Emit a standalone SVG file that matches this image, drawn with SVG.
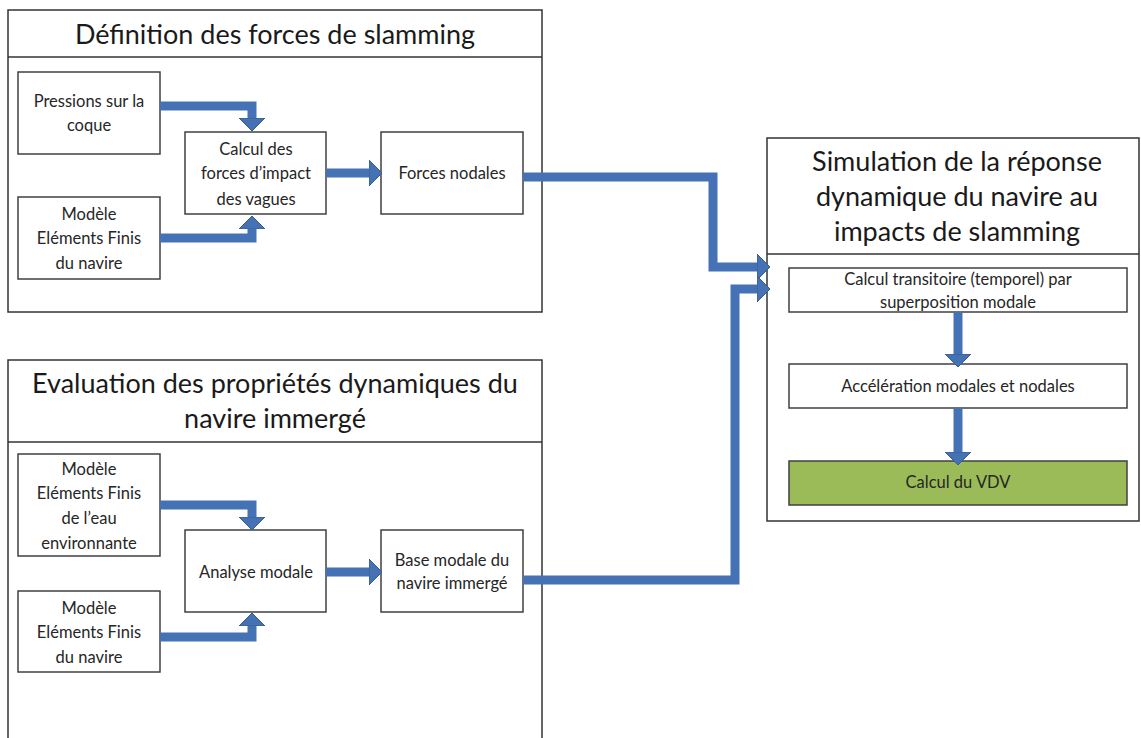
<svg xmlns="http://www.w3.org/2000/svg" width="1141" height="738" viewBox="0 0 1141 738">
<defs>
<style>
.panel{fill:#fff;stroke:#333;stroke-width:1.5}
.box{fill:#fff;stroke:#404040;stroke-width:1.5}
.green{fill:#9BBB59;stroke:#404040;stroke-width:1.5}
.title{font-family:Lato,"Liberation Sans",sans-serif;font-size:27px;fill:#1a1a1a;text-anchor:middle}
.lbl{font-family:Lato,"Liberation Sans",sans-serif;font-size:16.5px;fill:#262626;text-anchor:middle}
.sm{font-family:Lato,"Liberation Sans",sans-serif;font-size:16.5px;fill:#262626;text-anchor:middle}
.arr{fill:none;stroke:#4472B4;stroke-width:9;stroke-linejoin:miter;stroke-linecap:butt;marker-end:url(#head)}
</style>
<marker id="head" markerUnits="userSpaceOnUse" viewBox="0 -14 14 28" markerWidth="14" markerHeight="28" refX="0" refY="0" orient="auto">
<path d="M0,-13 L13,0 L0,13 z" fill="#4472B4" stroke="#385D8A" stroke-width="1"/>
</marker>
</defs>
<rect width="1141" height="738" fill="#fff"/>

<g id="panel-definition">
<rect class="panel" x="8" y="10" width="534" height="302"/>
<line x1="8" y1="57" x2="542" y2="57" stroke="#333" stroke-width="1.5"/>
<text class="title" x="275" y="44">Définition des forces de slamming</text>
</g>

<g id="panel-evaluation">
<rect class="panel" x="8" y="360" width="534" height="390"/>
<line x1="8" y1="442" x2="542" y2="442" stroke="#333" stroke-width="1.5"/>
<text class="title" x="275" y="393">Evaluation des propriétés dynamiques du</text>
<text class="title" x="275" y="428">navire immergé</text>
</g>

<g id="panel-simulation">
<rect class="panel" x="767" y="138" width="372" height="383"/>
<line x1="767" y1="254" x2="1139" y2="254" stroke="#333" stroke-width="1.5"/>
<text class="title" x="957" y="171">Simulation de la réponse</text>
<text class="title" x="957" y="206">dynamique du navire au</text>
<text class="title" x="957" y="241">impacts de slamming</text>
</g>

<g id="node-pressions">
<rect class="box" x="18" y="72" width="142" height="82"/>
<text class="lbl" x="89" y="107">Pressions sur la</text>
<text class="lbl" x="89" y="131">coque</text>
</g>
<g id="node-modele1">
<rect class="box" x="18" y="197" width="142" height="82"/>
<text class="lbl" x="89" y="220">Modèle</text>
<text class="lbl" x="89" y="244">Eléments Finis</text>
<text class="lbl" x="89" y="269">du navire</text>
</g>
<g id="node-calcul">
<rect class="box" x="185" y="132" width="141" height="82"/>
<text class="lbl" x="256" y="155">Calcul des</text>
<text class="lbl" x="256" y="179">forces d’impact</text>
<text class="lbl" x="256" y="205">des vagues</text>
</g>
<g id="node-forces">
<rect class="box" x="381" y="132" width="142" height="82"/>
<text class="lbl" x="452" y="179">Forces nodales</text>
</g>

<g id="node-modele-eau">
<rect class="box" x="18" y="454" width="142" height="102"/>
<text class="lbl" x="89" y="475">Modèle</text>
<text class="lbl" x="89" y="499">Eléments Finis</text>
<text class="lbl" x="89" y="524">de l’eau</text>
<text class="lbl" x="89" y="549">environnante</text>
</g>
<g id="node-modele2">
<rect class="box" x="18" y="591" width="142" height="81"/>
<text class="lbl" x="89" y="614">Modèle</text>
<text class="lbl" x="89" y="638">Eléments Finis</text>
<text class="lbl" x="89" y="663">du navire</text>
</g>
<g id="node-analyse">
<rect class="box" x="185" y="530" width="141" height="82"/>
<text class="lbl" x="256" y="578">Analyse modale</text>
</g>
<g id="node-base">
<rect class="box" x="381" y="530" width="142" height="82"/>
<text class="lbl" x="452" y="566">Base modale du</text>
<text class="lbl" x="452" y="589">navire immergé</text>
</g>

<g id="node-transitoire">
<rect class="box" x="789" y="268" width="338" height="44"/>
<text class="sm" x="958" y="285">Calcul transitoire (temporel) par</text>
<text class="sm" x="958" y="308">superposition modale</text>
</g>
<g id="node-acceleration">
<rect class="box" x="789" y="364" width="338" height="44"/>
<text class="sm" x="958" y="392">Accélération modales et nodales</text>
</g>
<g id="node-vdv">
<rect class="green" x="789" y="461" width="338" height="44"/>
<text class="sm" x="958" y="488">Calcul du VDV</text>
</g>

<g id="connectors">
<path class="arr" d="M160,106 H252 V118"/>
<path class="arr" d="M160,238 H252 V229"/>
<path class="arr" d="M326,173 H369"/>
<path class="arr" d="M160,505 H252 V517"/>
<path class="arr" d="M160,637 H252 V626"/>
<path class="arr" d="M326,572 H369"/>
<path class="arr" d="M523,177 H713 V267 H757"/>
<path class="arr" d="M523,580 H735 V289 H757"/>
<path class="arr" d="M958,312 V354"/>
<path class="arr" d="M958,408 V452"/>
</g>
</svg>
